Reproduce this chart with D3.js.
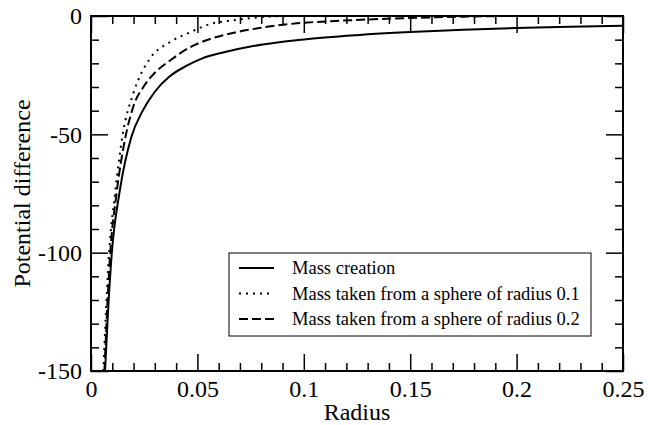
<!DOCTYPE html>
<html>
<head>
<meta charset="utf-8">
<script src="https://cdn.jsdelivr.net/npm/d3@7"></script>
<style>
  body { margin: 0; background: #fff; }
  .axis path { display: none; }
  .axis line { stroke: #000; stroke-width: 1.5; }
</style>
</head>
<body>
<div id="chart"></div>
<script>
// values
const xTicks = [0, 0.05, 0.1, 0.15, 0.2, 0.25]
const yTicks = [-150, -100, -50, 0]
const xTickLabels = ['0', '0.05', '0.1', '0.15', '0.2', '0.25']
const yTickLabels = ['-150', '-100', '-50', '0']

const seriesNames = [
  'Mass creation',
  'Mass taken from a sphere of radius 0.1',
  'Mass taken from a sphere of radius 0.2'
]

const creationR = [0.0066, 0.008, 0.0097, 0.0135, 0.019, 0.024, 0.030, 0.037, 0.045, 0.052, 0.0625, 0.075, 0.0875, 0.1, 0.125, 0.15, 0.175, 0.2, 0.225, 0.25]
const creationV = [-150, -125, -101, -74, -51, -40.5, -32, -25.5, -21, -18, -15.3, -12.9, -11.2, -9.9, -8.1, -6.8, -5.8, -5.1, -4.5, -4.1]

const sphere1R = [0.0058, 0.0085, 0.0113, 0.0149, 0.0199, 0.0277, 0.037, 0.0465, 0.056, 0.068, 0.079, 0.09, 0.1, 0.25]
const sphere1V = [-150, -100, -75, -50, -32.7, -18, -11.1, -6.9, -3.4, -1.7, -0.55, -0.1, 0, 0]

const sphere2R = [0.0063, 0.0089, 0.012, 0.016, 0.02, 0.025, 0.03, 0.037, 0.0465, 0.056, 0.068, 0.079, 0.0967, 0.115, 0.135, 0.155, 0.175, 0.2, 0.25]
const sphere2V = [-150, -102, -75, -52, -38, -29.5, -24, -18.9, -13.2, -9.7, -6.9, -5.1, -3.1, -2.1, -1.3, -0.7, -0.3, 0, 0]

const FONT = "'Liberation Serif', 'Times New Roman', Times, 'DejaVu Serif', serif"

const W = 648
const H = 425
const margin = { top: 16, right: 25, bottom: 54, left: 91 }
const width = W - margin.left - margin.right
const height = H - margin.top - margin.bottom

const x = d3.scaleLinear().domain([0, 0.25]).range([0, width])
const y = d3.scaleLinear().domain([-150, 0]).range([height, 0])

const svg = d3.select('#chart').append('svg')
  .attr('width', W)
  .attr('height', H)
  .attr('font-family', FONT)

const g = svg.append('g')
  .attr('transform', 'translate(' + margin.left + ',' + margin.top + ')')

g.append('clipPath').attr('id', 'clip')
  .append('rect')
  .attr('x', 0).attr('y', -2)
  .attr('width', width).attr('height', height + 2)

const series = [
  { name: seriesNames[0], r: creationR, v: creationV, dash: null },
  { name: seriesNames[1], r: sphere1R, v: sphere1V, dash: '2,5' },
  { name: seriesNames[2], r: sphere2R, v: sphere2V, dash: '9,4' }
]

const line = d3.line()
  .x(d => x(d[0]))
  .y(d => y(d[1]))
  .curve(d3.curveMonotoneX)

g.selectAll('.curve')
  .data(series)
  .enter().append('path')
  .attr('class', 'curve')
  .attr('clip-path', 'url(#clip)')
  .attr('fill', 'none')
  .attr('stroke', '#000')
  .attr('stroke-width', 2)
  .attr('stroke-dasharray', d => d.dash)
  .attr('d', d => line(d.r.map((r, i) => [r, d.v[i]])))

// minor ticks
const xMinor = d3.range(0, 0.2501, 0.01).filter(v => Math.abs(v / 0.05 - Math.round(v / 0.05)) > 1e-6)
const yMinor = d3.range(-150, 0.1, 10).filter(v => v % 50 !== 0)

function addAxis (axisFn, transform) {
  const a = g.append('g')
    .attr('class', 'axis')
    .attr('transform', transform)
    .call(axisFn)
  a.attr('font-family', FONT).attr('font-size', 24)
  a.selectAll('text').attr('fill', '#000')
}

// bottom
addAxis(d3.axisBottom(x).tickValues(xTicks).tickFormat((d, i) => xTickLabels[i]).tickSize(-17).tickPadding(9).tickSizeOuter(0), 'translate(0,' + height + ')')
addAxis(d3.axisBottom(x).tickValues(xMinor).tickFormat('').tickSize(-8).tickSizeOuter(0), 'translate(0,' + height + ')')
// top
addAxis(d3.axisTop(x).tickValues(xTicks).tickFormat('').tickSize(-17).tickSizeOuter(0), 'translate(0,0)')
addAxis(d3.axisTop(x).tickValues(xMinor).tickFormat('').tickSize(-8).tickSizeOuter(0), 'translate(0,0)')
// left
addAxis(d3.axisLeft(y).tickValues(yTicks).tickFormat((d, i) => yTickLabels[i]).tickSize(-17).tickPadding(9).tickSizeOuter(0), 'translate(0,0)')
addAxis(d3.axisLeft(y).tickValues(yMinor).tickFormat('').tickSize(-8).tickSizeOuter(0), 'translate(0,0)')
// right
addAxis(d3.axisRight(y).tickValues(yTicks).tickFormat('').tickSize(-17).tickSizeOuter(0), 'translate(' + width + ',0)')
addAxis(d3.axisRight(y).tickValues(yMinor).tickFormat('').tickSize(-8).tickSizeOuter(0), 'translate(' + width + ',0)')

// frame
g.append('rect')
  .attr('width', width)
  .attr('height', height)
  .attr('fill', 'none')
  .attr('stroke', '#000')
  .attr('stroke-width', 2)

// axis titles
svg.append('text')
  .attr('x', margin.left + width / 2)
  .attr('y', 420)
  .attr('text-anchor', 'middle')
  .attr('font-size', 24)
  .text('Radius')

svg.append('text')
  .attr('transform', 'translate(30,' + (margin.top + height / 2) + ') rotate(-90)')
  .attr('text-anchor', 'middle')
  .attr('font-size', 24)
  .text('Potential difference')

// legend
const legend = svg.append('g').attr('transform', 'translate(229,253)')
legend.append('rect')
  .attr('width', 362)
  .attr('height', 83)
  .attr('fill', '#fff')
  .attr('stroke', '#000')
  .attr('stroke-width', 1)

const rows = legend.selectAll('.row')
  .data(series)
  .enter().append('g')
  .attr('class', 'row')
  .attr('transform', (d, i) => 'translate(0,' + (15 + i * 25.5) + ')')

rows.append('line')
  .attr('x1', 10).attr('x2', 45)
  .attr('stroke', '#000')
  .attr('stroke-width', 2)
  .attr('stroke-dasharray', d => d.dash)

rows.append('text')
  .attr('x', 63)
  .attr('y', 6)
  .attr('font-size', 18.5)
  .text(d => d.name)
</script>
</body>
</html>
